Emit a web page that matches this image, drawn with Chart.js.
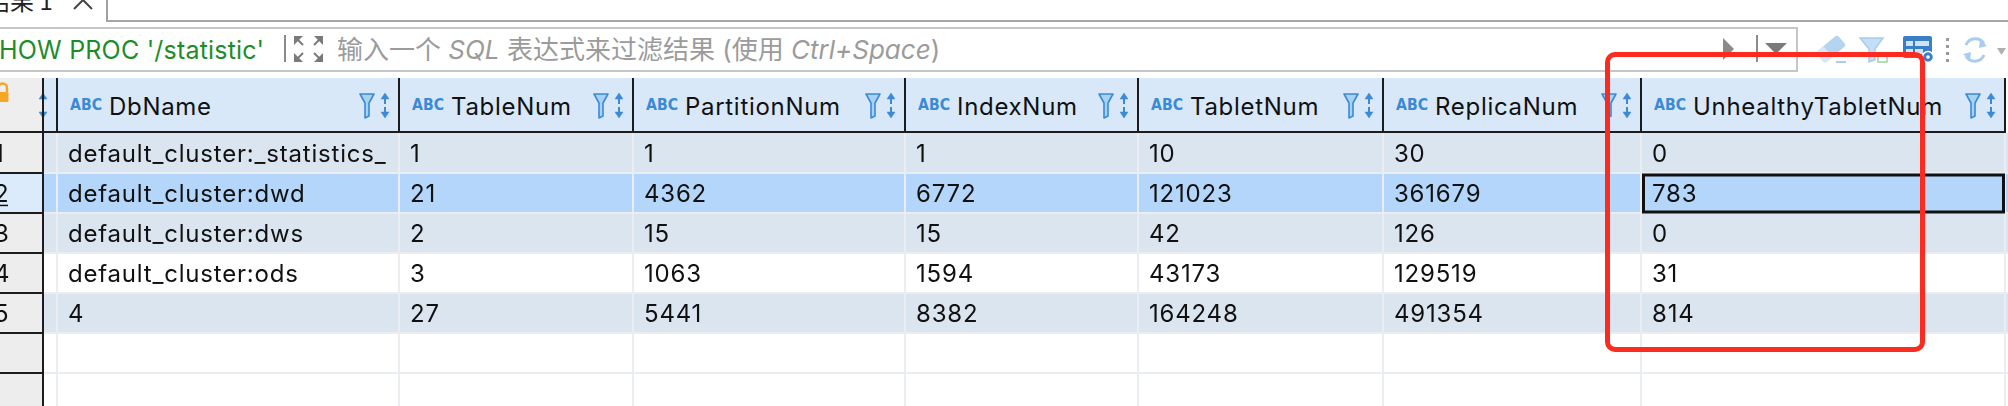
<!DOCTYPE html>
<html>
<head>
<meta charset="utf-8">
<title>SHOW PROC '/statistic'</title>
<script src="https://cdn.jsdelivr.net/npm/chart.js@4.4.1/dist/chart.umd.min.js"></script>
<style>
  html, body { margin: 0; padding: 0; background: #fff; overflow: hidden; }
  body { width: 2008px; height: 406px; position: relative; }
  #top { position: absolute; left: 0; top: 0; }
  #resultChart { position: absolute; left: 0; top: 133px; }
  #mark { position: absolute; left: 1605px; top: 52px; width: 310px; height: 290px;
          border: 5px solid #fb2b1f; border-radius: 10px; z-index: 5; }
</style>
</head>
<body>
<svg id="top" width="2008" height="133"></svg>
<canvas id="resultChart" width="2008" height="273"></canvas>
<div id="mark"></div>
<script>
// result set of SHOW PROC '/statistic'
const columns = ["DbName", "TableNum", "PartitionNum", "IndexNum", "TabletNum", "ReplicaNum", "UnhealthyTabletNum"];
const rowLabels = ["1", "2", "3", "4", "5"];
const dbName = ["default_cluster:_statistics_", "default_cluster:dwd", "default_cluster:dws", "default_cluster:ods", "4"];
const tableNum = [1, 21, 2, 3, 27];
const partitionNum = [1, 4362, 15, 1063, 5441];
const indexNum = [1, 6772, 15, 1594, 8382];
const tabletNum = [10, 121023, 42, 43173, 164248];
const replicaNum = [30, 361679, 126, 129519, 491354];
const unhealthyTabletNum = [0, 783, 0, 31, 814];

const series = [dbName, tableNum, partitionNum, indexNum, tabletNum, replicaNum, unhealthyTabletNum];
const selectedRow = 1, selectedCol = 6;

// layout
const W = 2008;
const colWidths = [342, 234, 272, 233, 245, 258, 364];
const colEdges = [57];
colWidths.forEach(w => colEdges.push(colEdges[colEdges.length - 1] + w));
const gridRows = [0, 1, 2, 3, 4, 5, 6]; // 5 data rows + 2 empty ones
const rowColors = ["#dbe5ef", "#b3d6fa", "#dbe5ef", "#ffffff", "#dbe5ef", "#ffffff", "#ffffff"];
const FONT = "24px Inter";
const BLUE = "#3b8ad6";

// ---------- toolbar + header (svg) ----------
function abcIcon(x, y) {
  return `<text x="${x}" y="${y}" font-family="DejaVu Sans" font-weight="bold" font-size="15" fill="${BLUE}" textLength="32" lengthAdjust="spacingAndGlyphs">ABC</text>`;
}
function funnelIcon(x, y, fill) {
  return `<path d="M${x + 1} ${y + 1} h14 l-5 9 v13 l-4 2 v-15 z" fill="${fill}" stroke="${BLUE}" stroke-width="1.6" stroke-linejoin="round"/>`;
}
function sortIcon(x, y) {
  return `<g stroke="${BLUE}" stroke-width="2" fill="${BLUE}">
    <line x1="${x + 5}" y1="${y + 4}" x2="${x + 5}" y2="${y + 11}"/>
    <path d="M${x + 1} ${y + 6} L${x + 5} ${y} L${x + 9} ${y + 6} Z" stroke-width="0.5"/>
    <line x1="${x + 5}" y1="${y + 14}" x2="${x + 5}" y2="${y + 21}"/>
    <path d="M${x + 1} ${y + 19} L${x + 5} ${y + 25} L${x + 9} ${y + 19} Z" stroke-width="0.5"/></g>`;
}

let s = "";
// tab
s += `<text x="-14" y="10" font-family="Noto Sans CJK SC" font-size="24" fill="#222">结果 1</text>`;
s += `<g stroke="#444" stroke-width="2"><line x1="74" y1="-9" x2="92" y2="9"/><line x1="92" y1="-9" x2="74" y2="9"/></g>`;
s += `<line x1="107" y1="0" x2="107" y2="21" stroke="#a0a0a0" stroke-width="2"/>`;
s += `<line x1="106" y1="21" x2="${W}" y2="21" stroke="#a6a6a6" stroke-width="2"/>`;
// filter box
s += `<rect x="-2" y="28" width="1799" height="43" fill="#fff" stroke="#c6c6c6" stroke-width="2"/>`;
s += `<text x="-1" y="59" font-family="Inter" font-size="25" letter-spacing="0.2" fill="#1f8c2a">HOW PROC '/statistic'</text>`;
s += `<line x1="285" y1="35" x2="285" y2="62" stroke="#8a8a8a" stroke-width="2"/>`;
s += `<g fill="#7a7a7a" stroke="#7a7a7a" stroke-width="2">
  <path d="M294 36 h9 l-9 9 z" stroke="none"/><line x1="296" y1="38" x2="303" y2="45"/>
  <path d="M323 36 h-9 l9 9 z" stroke="none"/><line x1="321" y1="38" x2="314" y2="45"/>
  <path d="M294 62 h9 l-9 -9 z" stroke="none"/><line x1="296" y1="60" x2="303" y2="53"/>
  <path d="M323 62 h-9 l9 -9 z" stroke="none"/><line x1="321" y1="60" x2="314" y2="53"/></g>`;
s += `<text x="337" y="59" font-family="Inter, 'Noto Sans CJK SC'" font-size="26" fill="#9b9b9b">输入一个 <tspan font-style="italic">SQL</tspan> 表达式来过滤结果 (使用 <tspan font-style="italic">Ctrl+Space</tspan>)</text>`;
s += `<path d="M1723 38 L1734 49 L1723 60 Z" fill="#8a8a8a"/>`;
s += `<line x1="1757" y1="35" x2="1757" y2="62" stroke="#666" stroke-width="1.5"/>`;
s += `<path d="M1765 43 H1787 L1776 54 Z" fill="#7a7a7a"/>`;
// right icons
s += `<g transform="translate(1831 49) rotate(-40)"><rect x="-14" y="-7" width="28" height="14" rx="3" fill="#b3d5f2"/><rect x="-14" y="-7" width="10" height="14" rx="2" fill="#d6e8f8"/></g>`;
s += `<line x1="1836" y1="62" x2="1846" y2="62" stroke="#a9cdec" stroke-width="2"/>`;
s += `<path d="M1860 38 H1883 L1875 49 V60 L1869 62 V49 Z" fill="#c3def5" stroke="#a9cdec" stroke-width="1.5"/>`;
s += `<rect x="1878" y="53" width="9" height="9" fill="none" stroke="#9fd39f" stroke-width="1.5"/>`;
s += `<rect x="1903" y="36" width="29" height="22" rx="2" fill="#3a7fc4"/>`;
s += `<rect x="1906" y="41" width="7" height="5" fill="#cfe3f6"/><rect x="1915" y="41" width="14" height="5" fill="#cfe3f6"/>`;
s += `<rect x="1906" y="49" width="7" height="5" fill="#cfe3f6"/><rect x="1915" y="49" width="8" height="5" fill="#cfe3f6"/>`;
s += `<circle cx="1928" cy="57" r="5.5" fill="#3a7fc4" stroke="#fff" stroke-width="1.5"/><circle cx="1928" cy="57" r="1.8" fill="#fff"/>`;
s += `<g fill="#9a9a9a"><rect x="1946" y="38" width="3" height="3"/><rect x="1946" y="45" width="3" height="3"/><rect x="1946" y="52" width="3" height="3"/><rect x="1946" y="59" width="3" height="3"/></g>`;
s += `<g fill="none" stroke="#a9cdf0" stroke-width="3"><path d="M1966 45 A10 10 0 0 1 1984 44"/><path d="M1984 55 A10 10 0 0 1 1966 56"/></g>`;
s += `<path d="M1980 40 L1987 46 L1979 48 Z M1970 60 L1963 54 L1971 52 Z" fill="#a9cdf0"/>`;
s += `<path d="M1997 48 H2006 L2001.5 55 Z" fill="#b0b0b0"/>`;

// header
s += `<rect x="0" y="78" width="43" height="55" fill="#eeeeee"/>`;
s += `<rect x="43" y="78" width="${colEdges[colEdges.length - 1] - 43}" height="55" fill="#d8e8f9"/>`;
s += `<path d="M-4 92 h11 a1.5 1.5 0 0 1 1.5 1.5 v7 a1.5 1.5 0 0 1 -1.5 1.5 h-11 z" fill="#f5a623"/>`;
s += `<path d="M-2 92 v-4 a4.5 4.5 0 0 1 9 0 v4" fill="none" stroke="#f5a623" stroke-width="2.5"/>`;
s += sortIcon(38, 93);
columns.forEach((name, i) => {
  const left = colEdges[i], right = colEdges[i + 1];
  s += abcIcon(left + 13, 110);
  s += `<text x="${left + 52}" y="115" font-family="Inter" font-size="24" letter-spacing="0.7" fill="#111">${name}</text>`;
  s += funnelIcon(right - 40, 93, "#a8d2f2");
  s += sortIcon(right - 19, 93);
});
[43].concat(colEdges).forEach(e => {
  s += `<rect x="${e - 1}" y="78" width="2" height="55" fill="#1c1c1c"/>`;
});
s += `<rect x="0" y="131" width="${colEdges[colEdges.length - 1]}" height="2" fill="#1c1c1c"/>`;
document.getElementById("top").innerHTML = s;

// ---------- table body (chart.js) ----------
const tablePlugin = {
  id: "tableCells",
  afterDatasetsDraw(chart) {
    const { ctx, scales: { x, y } } = chart;
    const rowTop = i => y.getPixelForValue(i - 0.5);
    const rowH = rowTop(1) - rowTop(0);
    ctx.save();
    // grid lines
    ctx.fillStyle = "#eaeef2";
    colEdges.forEach(e => ctx.fillRect(x.getPixelForValue(e) - 1, 0, 2, chart.height));
    gridRows.forEach(i => ctx.fillRect(0, rowTop(i + 1) - 1, W, 2));
    // row number column
    const numRight = x.getPixelForValue(43);
    ctx.fillStyle = "#ededed";
    ctx.fillRect(0, 0, numRight, chart.height);
    ctx.fillStyle = "#dcebfb";
    ctx.fillRect(0, rowTop(selectedRow), numRight, rowH);
    ctx.fillStyle = "#1c1c1c";
    ctx.fillRect(numRight - 1, 0, 2, chart.height);
    gridRows.forEach(i => ctx.fillRect(0, rowTop(i + 1) - 1, numRight, 2));
    ctx.font = FONT;
    ctx.letterSpacing = "0.8px";
    ctx.textBaseline = "alphabetic";
    ctx.fillStyle = "#111";
    rowLabels.forEach((lab, r) => {
      const by = y.getPixelForValue(r) + 8.7;
      ctx.fillText(lab, -6, by);
      if (r === selectedRow) ctx.fillRect(-6, by + 3, 14, 1.5);
    });
    // cell values
    series.forEach((vals, c) => {
      const cx = x.getPixelForValue(colEdges[c]) + 11;
      vals.forEach((v, r) => ctx.fillText(String(v), cx, y.getPixelForValue(r) + 8.7));
    });
    // focused cell
    ctx.strokeStyle = "#111";
    ctx.lineWidth = 3;
    const sx = x.getPixelForValue(colEdges[selectedCol]), ex = x.getPixelForValue(colEdges[selectedCol + 1]);
    ctx.strokeRect(sx + 2.5, rowTop(selectedRow) + 2, ex - sx - 4, rowH - 3);
    ctx.restore();
  }
};

const ctx = document.getElementById("resultChart").getContext("2d");
const resultChart = new Chart(ctx, {
  type: "bar",
  data: {
    datasets: [{
      data: gridRows.map(i => ({ x: [0, W], y: i })),
      backgroundColor: rowColors,
      borderWidth: 0,
      barPercentage: 1,
      categoryPercentage: 1
    }]
  },
  options: {
    indexAxis: "y",
    responsive: false,
    animation: false,
    events: [],
    layout: { padding: 0 },
    scales: {
      x: { type: "linear", display: false, min: 0, max: W },
      y: {
        type: "linear", display: false, offset: false, reverse: true, min: -0.5, max: 6.325,
        afterBuildTicks: scale => { scale.ticks = gridRows.map(v => ({ value: v })); }
      }
    },
    plugins: { legend: { display: false }, tooltip: { enabled: false } }
  },
  plugins: [tablePlugin]
});
</script>
</body>
</html>
